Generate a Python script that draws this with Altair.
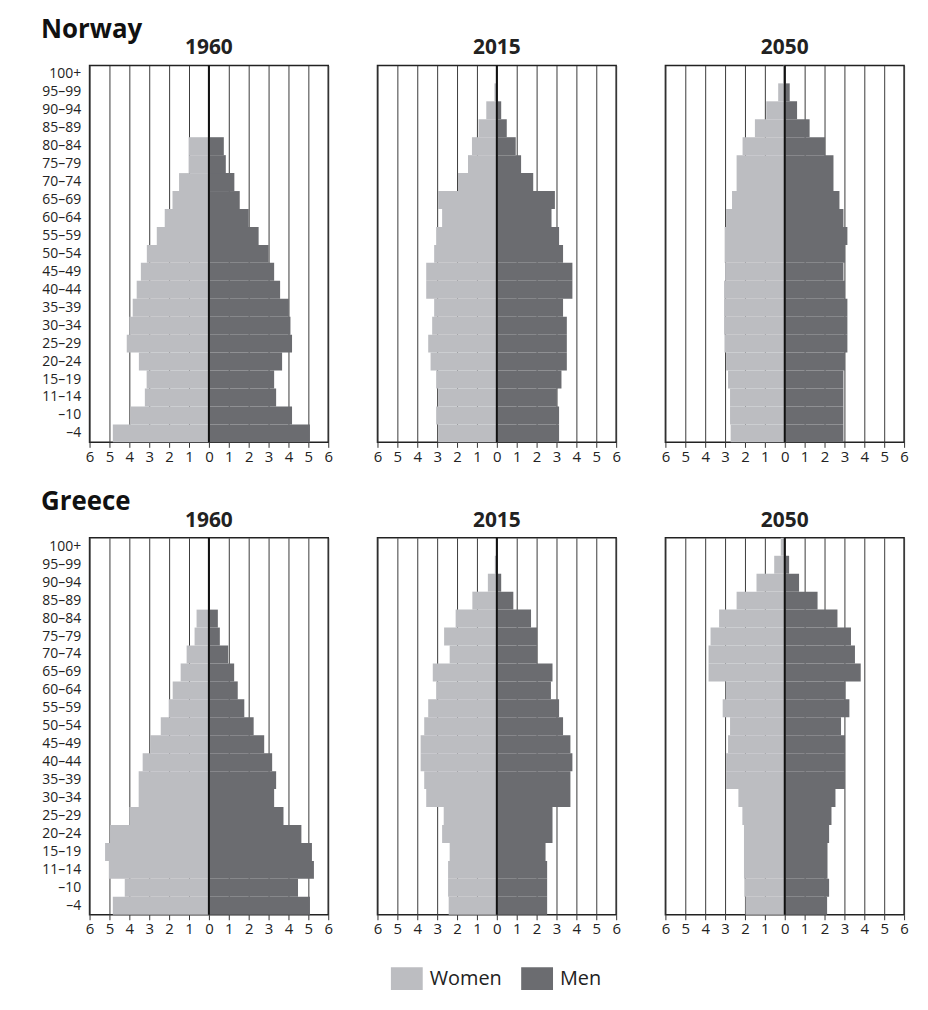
import altair as alt
import pandas as pd

# Age groups, bottom (youngest) to top (oldest)
ages = ["–4", "–10", "11–14", "15–19", "20–24", "25–29", "30–34", "35–39",
        "40–44", "45–49", "50–54", "55–59", "60–64", "65–69", "70–74",
        "75–79", "80–84", "85–89", "90–94", "95–99", "100+"]
ages_top = ages[::-1]

countries = ["Norway", "Greece"]
years = ["1960", "2015", "2050"]
sexes = ["Women", "Men"]
x_ticks = [-6, -5, -4, -3, -2, -1, 0, 1, 2, 3, 4, 5, 6]

# Percent of population, listed bottom to top (same order as `ages`)
norway_1960_women = [4.83, 3.95, 3.22, 3.13, 3.52, 4.13, 4.0, 3.83, 3.63, 3.42, 3.12,
                     2.62, 2.22, 1.83, 1.5, 1.02, 1.02, 0, 0, 0, 0]
norway_1960_men = [5.08, 4.18, 3.38, 3.28, 3.68, 4.18, 4.1, 4.02, 3.58, 3.28, 3.0,
                   2.5, 2.0, 1.55, 1.28, 0.85, 0.75, 0, 0, 0, 0]
norway_2015_women = [2.95, 3.05, 2.95, 3.05, 3.33, 3.45, 3.25, 3.15, 3.55, 3.55, 3.15,
                     3.05, 2.75, 2.95, 1.95, 1.45, 1.25, 0.92, 0.53, 0.12, 0]
norway_2015_men = [3.13, 3.13, 3.02, 3.25, 3.52, 3.52, 3.52, 3.33, 3.8, 3.8, 3.33,
                   3.13, 2.75, 2.92, 1.83, 1.22, 0.95, 0.5, 0.22, 0.04, 0]
norway_2050_women = [2.72, 2.75, 2.75, 2.85, 2.95, 3.03, 3.05, 3.05, 3.05, 3.0, 3.02,
                     3.02, 2.95, 2.65, 2.42, 2.42, 2.12, 1.5, 0.93, 0.33, 0.07]
norway_2050_men = [2.95, 2.95, 2.95, 2.95, 3.03, 3.15, 3.15, 3.15, 3.03, 2.95, 3.03,
                   3.15, 2.95, 2.75, 2.45, 2.45, 2.03, 1.25, 0.62, 0.25, 0.02]
greece_1960_women = [4.83, 4.23, 5.03, 5.22, 4.97, 4.0, 3.53, 3.53, 3.33, 2.95, 2.42,
                     2.02, 1.82, 1.42, 1.12, 0.72, 0.62, 0, 0, 0, 0]
greece_1960_men = [5.08, 4.48, 5.28, 5.18, 4.65, 3.75, 3.28, 3.38, 3.18, 2.78, 2.25,
                   1.78, 1.45, 1.27, 0.97, 0.55, 0.45, 0, 0, 0, 0]
greece_2015_women = [2.42, 2.45, 2.45, 2.37, 2.75, 2.67, 3.55, 3.65, 3.83, 3.83, 3.65,
                     3.45, 3.05, 3.22, 2.37, 2.65, 2.07, 1.23, 0.45, 0.1, 0]
greece_2015_men = [2.53, 2.53, 2.53, 2.45, 2.8, 2.8, 3.7, 3.7, 3.8, 3.7, 3.33,
                   3.13, 2.72, 2.8, 2.02, 2.02, 1.72, 0.83, 0.22, 0.03, 0]
greece_2050_women = [1.97, 2.03, 2.05, 2.05, 2.05, 2.13, 2.33, 2.95, 2.95, 2.85, 2.75,
                     3.12, 2.97, 3.83, 3.83, 3.73, 3.3, 2.42, 1.42, 0.53, 0.2]
greece_2050_men = [2.13, 2.23, 2.15, 2.15, 2.23, 2.35, 2.55, 3.03, 3.03, 3.03, 2.83,
                   3.25, 3.05, 3.82, 3.53, 3.33, 2.65, 1.65, 0.72, 0.22, 0.02]

series = {
    ("Norway", "1960"): (norway_1960_women, norway_1960_men),
    ("Norway", "2015"): (norway_2015_women, norway_2015_men),
    ("Norway", "2050"): (norway_2050_women, norway_2050_men),
    ("Greece", "1960"): (greece_1960_women, greece_1960_men),
    ("Greece", "2015"): (greece_2015_women, greece_2015_men),
    ("Greece", "2050"): (greece_2050_women, greece_2050_men),
}

WOMEN_COLOR = "#bcbdc1"
MEN_COLOR = "#6b6c70"
FONT = "Open Sans"

x_scale = alt.Scale(domain=[-6, 6], nice=False)
x_axis = alt.Axis(values=x_ticks, labelExpr="abs(datum.value)",
                  title=None, grid=True, gridColor="#3a3a3a",
                  gridWidth=1, domain=False, tickColor="#333",
                  tickSize=5, tickWidth=1, labelFontSize=15,
                  labelPadding=2, labelColor="#222", labelFont=FONT,
                  labelOverlap=False, labelFlush=False, labelBound=False)


def panel(country, year, show_labels):
    women, men = series[(country, year)]
    rows = []
    for a, w, m in zip(ages, women, men):
        rows.append({"age": a, "sex": "Women", "value": -w})
        rows.append({"age": a, "sex": "Men", "value": m})
    df = pd.DataFrame(rows)

    if show_labels:
        y_axis = alt.Axis(title=None, ticks=False, domain=False, labelFontSize=14,
                          labelPadding=9, labelColor="#222", labelFont=FONT)
    else:
        y_axis = None

    bars = alt.Chart(df).mark_bar(strokeWidth=0).encode(
        x=alt.X("value:Q", stack=None, scale=x_scale, axis=x_axis),
        y=alt.Y("age:N", sort=ages_top,
                scale=alt.Scale(domain=ages_top, paddingInner=0, paddingOuter=0),
                axis=y_axis),
        color=alt.Color("sex:N",
                        scale=alt.Scale(domain=sexes, range=[WOMEN_COLOR, MEN_COLOR]),
                        legend=alt.Legend(title=None, orient="none", direction="horizontal",
                                          legendX=303, legendY=902,
                                          symbolType="M-1,-0.72H1V0.72H-1Z",
                                          symbolSize=1024, symbolStrokeWidth=0,
                                          symbolOpacity=1,
                                          labelFontSize=20, labelFont=FONT,
                                          labelColor="#222", labelOffset=7,
                                          columnPadding=19)),
    )
    zero = alt.Chart(pd.DataFrame({"v": [0]})).mark_rule(
        color="#111", strokeWidth=2).encode(x=alt.X("v:Q", scale=x_scale, axis=x_axis))

    return alt.layer(bars, zero).properties(
        width=240, height=379,
        title=alt.TitleParams(year, fontSize=21, fontWeight="bold", font=FONT,
                              color="#222", offset=6),
    )


def country_row(country):
    return alt.hconcat(
        *[panel(country, y, i == 0) for i, y in enumerate(years)],
        spacing=37.5,
    ).properties(
        title=alt.TitleParams(country, anchor="start", fontSize=26, fontWeight="bold",
                              font=FONT, color="#111", offset=-6)
    )


chart = alt.vconcat(
    *[country_row(c) for c in countries], spacing=24
).configure(
    font=FONT
).configure_view(
    stroke="#222", strokeWidth=1.5
).properties(
    padding={"left": 33, "top": 6, "right": 10, "bottom": 10}
)

chart.save("out.html", embed_options={"renderer": "svg", "actions": False})
